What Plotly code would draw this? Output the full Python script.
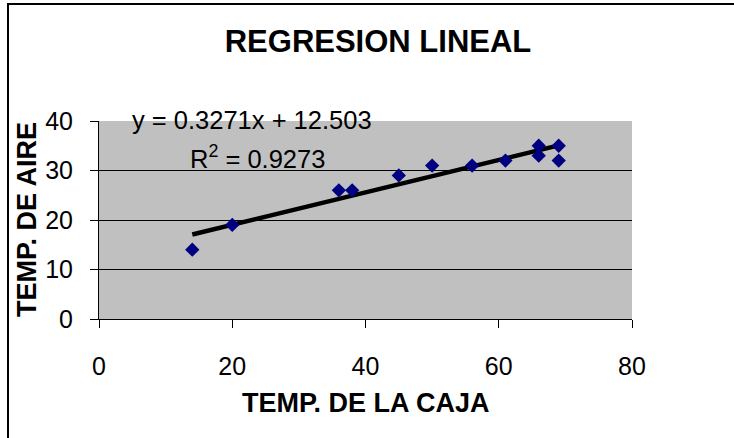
import plotly.graph_objects as go

temp_caja = [14, 20, 36, 38, 45, 50, 56, 61, 66, 66, 69, 69]
temp_aire = [14, 19, 26, 26, 29, 31, 31, 32, 35, 33, 35, 32]
slope = 0.3271
intercept = 12.503
r2 = 0.9273
x_ticks = [0, 20, 40, 60, 80]
y_ticks = [0, 10, 20, 30, 40]
title_text = "REGRESION LINEAL"
x_title = "TEMP. DE LA CAJA"
y_title = "TEMP. DE AIRE"

FONT = "Liberation Sans, Arial, sans-serif"

x_line = [min(temp_caja), max(temp_caja)]
y_line = [slope * v + intercept for v in x_line]

fig = go.Figure()
fig.add_trace(go.Scatter(
    x=x_line, y=y_line, mode="lines",
    line=dict(color="black", width=4.5), showlegend=False))
fig.add_trace(go.Scatter(
    x=temp_caja, y=temp_aire, mode="markers",
    marker=dict(symbol="diamond", size=11, color="#000080", line=dict(width=0)),
    showlegend=False, cliponaxis=False))

W, H = 734, 438
ml, mr, mt, mb = 99, 102, 121, 119
pw, ph = W - ml - mr, H - mt - mb

def px(xp):
    return (xp - ml) / pw

def py(yp):
    return (H - mb - yp) / ph

# chart-area border (open to the right and bottom, as in the reference crop)
fig.add_shape(type="rect", xref="paper", yref="paper",
              x0=px(8), x1=px(760), y0=py(4), y1=py(460),
              line=dict(color="black", width=2), fillcolor="rgba(0,0,0,0)", layer="above")

# trendline label
fig.add_annotation(x=px(130), y=py(136.4), xref="paper", yref="paper",
                   xanchor="left", yanchor="bottom",
                   text=f"y = {slope}x + {intercept}", showarrow=False,
                   font=dict(family=FONT, size=25.5, color="black"))
fig.add_annotation(x=px(188), y=py(175.4), xref="paper", yref="paper",
                   xanchor="left", yanchor="bottom",
                   text=f"R<sup>2</sup> = {r2}", showarrow=False,
                   font=dict(family=FONT, size=25.5, color="black"))

# axis titles
fig.add_annotation(x=px(366), y=py(403), xref="paper", yref="paper",
                   xanchor="center", yanchor="middle",
                   text=f"<b>{x_title}</b>", showarrow=False,
                   font=dict(family=FONT, size=27, color="black"))
fig.add_annotation(x=px(27), y=0.5, xref="paper", yref="paper",
                   xanchor="center", yanchor="middle", textangle=-90,
                   text=f"<b>{y_title}</b>", showarrow=False,
                   font=dict(family=FONT, size=27, color="black"))

fig.update_layout(
    width=W, height=H,
    margin=dict(l=ml, r=mr, t=mt, b=mb, pad=0),
    paper_bgcolor="white", plot_bgcolor="#C0C0C0",
    font=dict(family=FONT, size=25, color="black"),
    title=dict(text=f"<b>{title_text}</b>", x=px(378), xanchor="center",
               xref="paper", y=1 - 41 / H, yanchor="middle",
               font=dict(family=FONT, size=31, color="black")),
    xaxis=dict(range=[0, 80], tickvals=x_ticks, ticks="outside", ticklen=8,
               tickcolor="black", showline=True, linecolor="black", linewidth=1,
               showgrid=False, zeroline=False, fixedrange=True,
               ticklabelstandoff=17,
               tickfont=dict(family=FONT, size=25, color="black")),
    yaxis=dict(range=[0, 40], tickvals=y_ticks, ticks="outside", ticklen=8,
               tickcolor="black", showline=True, linecolor="black", linewidth=1,
               showgrid=True, gridcolor="black", gridwidth=1, zeroline=False,
               fixedrange=True, ticklabelstandoff=12,
               tickfont=dict(family=FONT, size=25, color="black")),
)

fig.write_html("out.html", config={"displayModeBar": False},
               post_script="document.body.style.margin='0';")
